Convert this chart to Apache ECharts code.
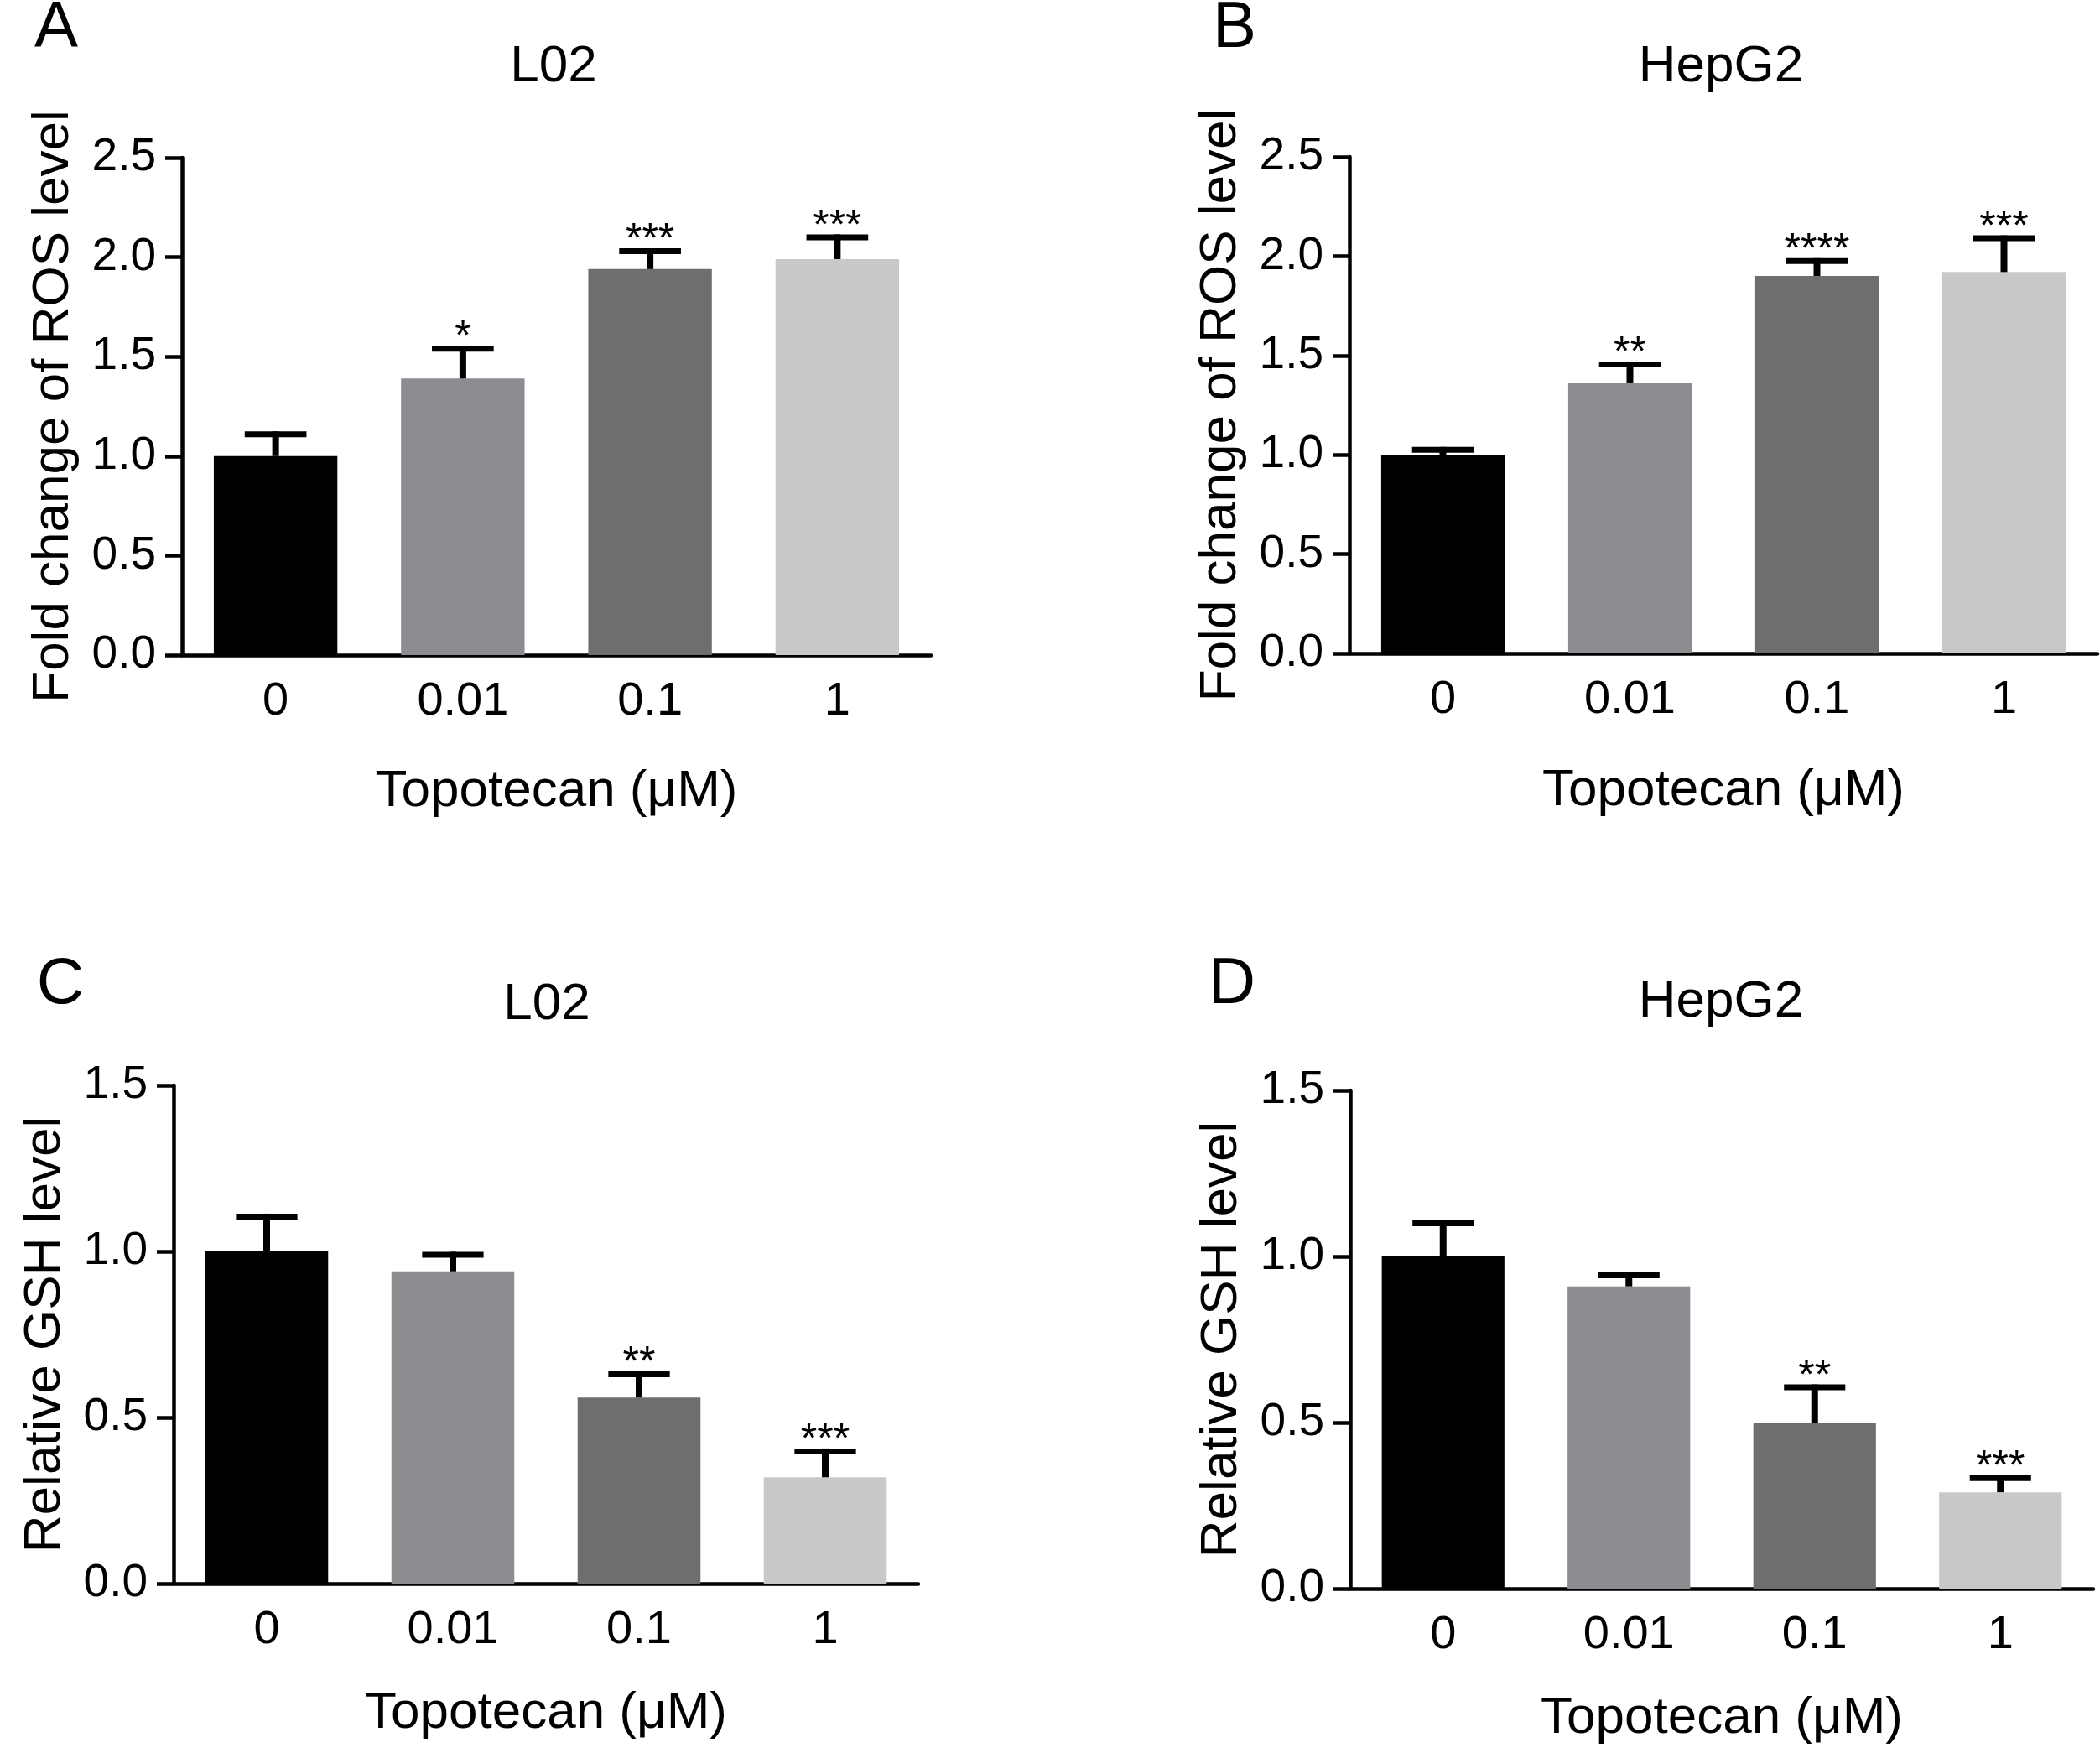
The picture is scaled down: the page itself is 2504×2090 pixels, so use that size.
<!DOCTYPE html>
<html>
<head>
<meta charset="utf-8">
<script src="https://cdn.jsdelivr.net/npm/echarts@6/dist/echarts.min.js"></script>
<style>
html,body{margin:0;padding:0;background:#fff;}
#chart{width:2504px;height:2090px;}
</style>
</head>
<body>
<div id="chart"></div>
<script>
// ---- data ----
const categories = ['0', '0.01', '0.1', '1'];
const barColors = ['#000000', '#8d8d91', '#6e6e6e', '#c8c8c8'];

const rosL02 = [1.00, 1.39, 1.94, 1.99];
const rosL02Err = [0.11, 0.15, 0.09, 0.11];
const rosL02Stars = ['', '*', '***', '***'];

const rosHepG2 = [1.00, 1.36, 1.90, 1.92];
const rosHepG2Err = [0.025, 0.095, 0.075, 0.17];
const rosHepG2Stars = ['', '**', '****', '***'];

const gshL02 = [1.00, 0.94, 0.56, 0.32];
const gshL02Err = [0.105, 0.05, 0.07, 0.078];
const gshL02Stars = ['', '', '**', '***'];

const gshHepG2 = [1.00, 0.91, 0.50, 0.29];
const gshHepG2Err = [0.10, 0.033, 0.106, 0.043];
const gshHepG2Stars = ['', '', '**', '***'];

const rosTicksMax = 2.5;
const gshTicksMax = 1.5;
const tickInterval = 0.5;

const yNameROS = 'Fold change of ROS level';
const yNameGSH = 'Relative GSH level';
const xName = 'Topotecan (μM)';

const panels = [
  {letter: 'A', title: 'L02', values: rosL02, errs: rosL02Err, stars: rosL02Stars, max: rosTicksMax, yName: yNameROS,
   grid: {left: 217, top: 188, width: 893, height: 593}, letterPos: [67, 34], titlePos: [660, 80], xGap: 132},
  {letter: 'B', title: 'HepG2', values: rosHepG2, errs: rosHepG2Err, stars: rosHepG2Stars, max: rosTicksMax, yName: yNameROS,
   grid: {left: 1609, top: 187, width: 892, height: 592}, letterPos: [1472, 34], titlePos: [2052, 80], xGap: 133},
  {letter: 'C', title: 'L02', values: gshL02, errs: gshL02Err, stars: gshL02Stars, max: gshTicksMax, yName: yNameGSH,
   grid: {left: 207, top: 1294, width: 888, height: 594}, letterPos: [72, 1174], titlePos: [652, 1198], xGap: 124},
  {letter: 'D', title: 'HepG2', values: gshHepG2, errs: gshHepG2Err, stars: gshHepG2Stars, max: gshTicksMax, yName: yNameGSH,
   grid: {left: 1610, top: 1300, width: 886, height: 594}, letterPos: [1469, 1174], titlePos: [2052, 1195], xGap: 124}
];

const FONT = '"Liberation Sans", Arial, Helvetica, sans-serif';
const AXIS_W = 4.5;

const grids = [], xAxes = [], yAxes = [], series = [], graphics = [];

panels.forEach(function (p, i) {
  grids.push(Object.assign({containLabel: false}, p.grid));
  xAxes.push({
    type: 'category', gridIndex: i, data: categories,
    name: xName, nameLocation: 'middle', nameGap: p.xGap,
    nameTextStyle: {fontFamily: FONT, fontSize: 62, color: '#000'},
    axisLine: {lineStyle: {color: '#000', width: AXIS_W}},
    axisTick: {alignWithLabel: true, length: 18, lineStyle: {color: '#000', width: AXIS_W}},
    axisLabel: {fontFamily: FONT, fontSize: 56, color: '#000', margin: 28}
  });
  yAxes.push({
    type: 'value', gridIndex: i, min: 0, max: p.max, interval: tickInterval,
    name: p.yName, nameLocation: 'middle', nameGap: 122, nameRotate: 90,
    nameTextStyle: {fontFamily: FONT, fontSize: 62, color: '#000'},
    axisLine: {show: true, lineStyle: {color: '#000', width: AXIS_W}},
    axisTick: {show: true, length: 20, lineStyle: {color: '#000', width: AXIS_W}},
    splitLine: {show: false},
    axisLabel: {fontFamily: FONT, fontSize: 55, color: '#000', margin: 31,
      formatter: function (v) { return v.toFixed(1); }}
  });
  series.push({
    type: 'bar', xAxisIndex: i, yAxisIndex: i, barWidth: '66%',
    data: p.values,
    itemStyle: {color: function (params) { return barColors[params.dataIndex]; }},
    z: 2, silent: true
  });
  const errData = p.values.map(function (v, k) { return [k, v, p.errs[k]]; });
  const stars = p.stars;
  series.push({
    type: 'custom', xAxisIndex: i, yAxisIndex: i, z: 5, silent: true,
    encode: {x: 0, y: 1},
    data: errData,
    renderItem: function (params, api) {
      const k = api.value(0), v = api.value(1), e = api.value(2);
      const p0 = api.coord([k, v]);
      const p1 = api.coord([k, v + e]);
      const band = api.size([1, 0])[0];
      const half = band * 0.66 * 0.25;
      const children = [
        {type: 'line', shape: {x1: p0[0], y1: p0[1], x2: p1[0], y2: p1[1] - 3.5},
         style: {stroke: '#000', lineWidth: 8}},
        {type: 'line', shape: {x1: p1[0] - half, y1: p1[1], x2: p1[0] + half, y2: p1[1]},
         style: {stroke: '#000', lineWidth: 7}}
      ];
      const s = stars[params.dataIndex];
      if (s) {
        children.push({type: 'text', x: p1[0], y: p1[1] - 12,
          style: {text: s, fontFamily: FONT, fontSize: 50, fill: '#000', align: 'center', verticalAlign: 'middle'}});
      }
      return {type: 'group', children: children};
    }
  });
  graphics.push({type: 'text', x: p.letterPos[0], y: p.letterPos[1],
    style: {text: p.letter, fontFamily: FONT, fontSize: 78, fill: '#000', align: 'center', verticalAlign: 'middle'}});
  graphics.push({type: 'text', x: p.titlePos[0], y: p.titlePos[1],
    style: {text: p.title, fontFamily: FONT, fontSize: 62, fill: '#000', align: 'center', verticalAlign: 'middle'}});
});

const chart = echarts.init(document.getElementById('chart'), null, {renderer: 'canvas'});
chart.setOption({
  backgroundColor: '#ffffff',
  animation: false,
  grid: grids,
  xAxis: xAxes,
  yAxis: yAxes,
  series: series,
  graphic: graphics
});
</script>
</body>
</html>
